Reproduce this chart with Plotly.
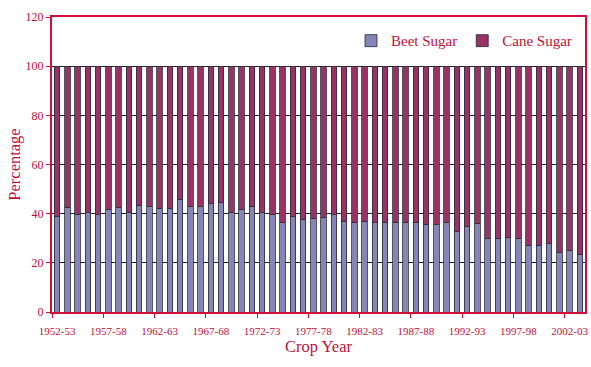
import plotly.graph_objects as go

crop_years = [f"{y}-{str(y+1)[-2:]}" for y in range(1952, 2004)]
beet_pct = [38.8, 42.7, 39.7, 40.4, 39.5, 41.8, 42.4, 40.4, 43.5, 42.8,
            42.2, 42.2, 45.8, 42.8, 42.8, 44.0, 44.5, 40.4, 41.5, 43.0,
            40.4, 39.5, 36.3, 38.8, 37.7, 38.0, 38.6, 39.7, 37.0, 36.6,
            37.0, 36.3, 36.6, 36.6, 36.6, 36.6, 35.6, 35.6, 36.3, 32.7,
            34.6, 36.0, 30.0, 30.0, 30.5, 30.0, 27.2, 27.2, 27.8, 24.4,
            25.0, 23.4]
cane_pct = [round(100 - b, 1) for b in beet_pct]
y_ticks = [0, 20, 40, 60, 80, 100, 120]

RED = "#d0103a"
TXT = "#c0103a"
FONT = "Liberation Serif"

fig = go.Figure()
fig.add_trace(go.Bar(x=crop_years, y=beet_pct, name="Beet Sugar",
                     marker=dict(color="#8585b8", line=dict(color="#2a2a3a", width=0.8))))
fig.add_trace(go.Bar(x=crop_years, y=cane_pct, name="Cane Sugar",
                     marker=dict(color="#993366", line=dict(color="#2a2a3a", width=0.8))))

fig.update_layout(
    barmode="stack", bargap=0.45,
    width=591, height=367,
    margin=dict(l=52, r=6, t=17, b=55, autoexpand=False),
    paper_bgcolor="white", plot_bgcolor="white",
    font=dict(family=FONT, color=TXT, size=12),
    showlegend=True,
    legend=dict(orientation="h", x=0.985, y=0.975, xanchor="right", yanchor="top",
                font=dict(family=FONT, size=15, color=TXT),
                bgcolor="rgba(0,0,0,0)", traceorder="normal",
                itemwidth=30),
)
fig.update_xaxes(
    type="category", tickson="boundaries", dtick=5, tick0=0,
    ticks="outside", ticklen=4, tickcolor=RED,
    showline=True, linecolor=RED, linewidth=2, mirror=True,
    showgrid=False, ticklabelstandoff=8,
    tickfont=dict(family=FONT, size=11, color=TXT), tickangle=0,
    title=dict(text="Crop Year", font=dict(family=FONT, size=16.5, color=TXT), standoff=3),
)
fig.update_yaxes(
    range=[0, 120], tickvals=y_ticks,
    ticks="outside", ticklen=4, tickcolor=RED,
    showline=True, linecolor=RED, linewidth=2, mirror=True,
    showgrid=True, gridcolor="#222222", gridwidth=1,
    zeroline=False,
    tickfont=dict(family=FONT, size=12, color=TXT),
    title=dict(text="Percentage", font=dict(family=FONT, size=16.5, color=TXT), standoff=1),
)

fig.write_html("out.html", config={"displayModeBar": False},
               post_script="document.body.style.margin='0';document.body.style.overflow='hidden';")
